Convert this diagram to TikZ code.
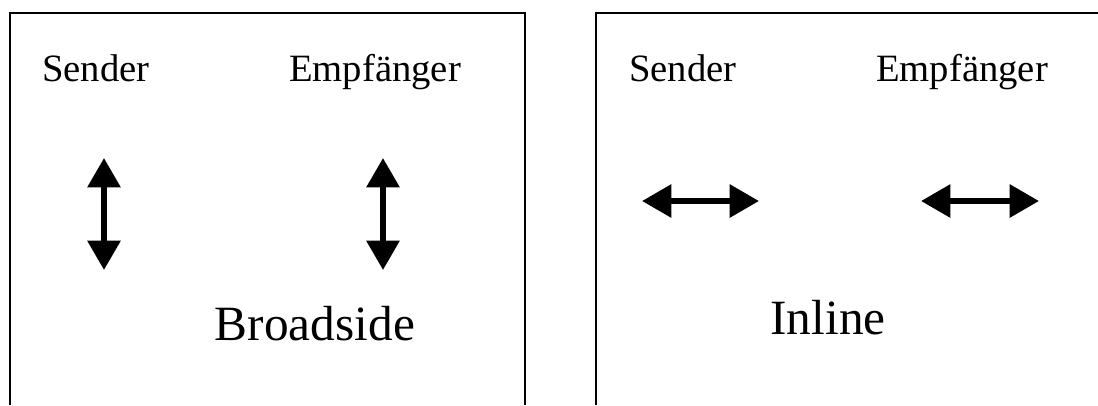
\documentclass[tikz,border=0pt]{standalone}
\usepackage{fontspec}
\setmainfont{Liberation Serif}
\usetikzlibrary{arrows.meta}

\begin{document}
\begin{tikzpicture}[
    x=0.75pt, y=-0.75pt,
    frame/.style  = {line width=1.6pt},
    lbl/.style    = {anchor=base, inner sep=0pt, font=\fontsize{29}{31}\selectfont},
    title/.style  = {anchor=base, inner sep=0pt, font=\fontsize{37}{40}\selectfont},
    dbl/.style    = {{Triangle[length=22pt, width=24pt]}-{Triangle[length=22pt, width=24pt]},
                     line width=4.5pt}
]
\useasboundingbox (0,0) rectangle (1098,405);

%% frames, open at the bottom
\draw[frame] (10,405) -- (10,13) -- (525,13) -- (525,405);
\draw[frame] (596,405) -- (596,13) -- (1098,13);

%% left frame: Broadside
\node[lbl]   (sendA) at (96,81)  {Sender};
\node[lbl]   (empfA) at (375,81) {Empfänger};
\node[title] (broad) at (315,340) {Broadside};

\coordinate (sendAtop) at (104,158);
\coordinate (sendAbot) at (104,270);
\coordinate (empfAtop) at (383,158);
\coordinate (empfAbot) at (383,270);
\draw[dbl] (sendAtop) -- (sendAbot);
\draw[dbl] (empfAtop) -- (empfAbot);

%% right frame: Inline
\node[lbl]   (sendB) at (683,81)  {Sender};
\node[lbl]   (empfB) at (962,81)  {Empfänger};
\node[title] (inl)   at (828,334) {Inline};

\coordinate (sendBl) at (642,201);
\coordinate (sendBr) at (759,201);
\coordinate (empfBl) at (921,201);
\coordinate (empfBr) at (1039,201);
\draw[dbl] (sendBl) -- (sendBr);
\draw[dbl] (empfBl) -- (empfBr);

\end{tikzpicture}
\end{document}
